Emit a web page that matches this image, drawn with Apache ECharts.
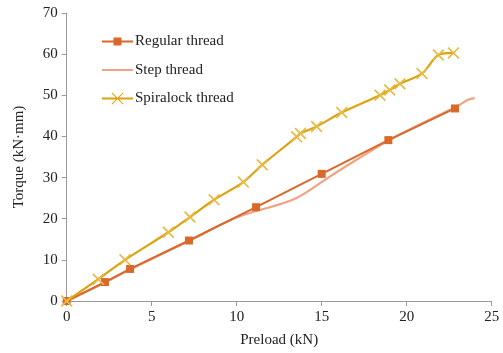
<!DOCTYPE html>
<html><head><meta charset="utf-8">
<script src="https://cdn.jsdelivr.net/npm/echarts@6/dist/echarts.min.js"></script>
<style>html,body{margin:0;padding:0;background:#fff}#c{width:503px;height:353px}</style>
</head><body><div id="c"></div>
<script>
const seriesNames = ['Regular thread', 'Step thread', 'Spiralock thread'];
const regularX = [0, 2.25, 3.73, 7.19, 11.14, 15.0, 18.92, 22.84];
const regularY = [0, 4.6, 7.8, 14.7, 22.8, 30.9, 39.1, 46.8];
const stepX = [0, 2.2, 3.7, 7.2, 10.0, 13.4, 15.5, 17.0, 19.0, 21.0, 23.0, 23.6, 24.0];
const stepY = [0, 4.4, 7.6, 14.6, 20.3, 24.8, 30.3, 34.2, 39.2, 43.4, 47.4, 48.9, 49.3];
const spiralX = [0, 1.86, 3.43, 5.98, 7.25, 8.67, 10.39, 11.5, 13.53, 13.75, 14.7, 16.18, 18.43, 19.0, 19.6, 20.9, 21.86, 22.75];
const spiralY = [0, 5.3, 10.0, 16.7, 20.4, 24.6, 28.9, 33.1, 39.9, 40.7, 42.4, 45.8, 50.0, 51.3, 52.8, 55.3, 59.8, 60.3];
const xTicks = [0, 5, 10, 15, 20, 25];
const yTicks = [0, 10, 20, 30, 40, 50, 60, 70];

const pair = (xs, ys) => xs.map((x, i) => [x, ys[i]]);
const font = 'Liberation Serif';
const crossPath = 'path://M0,1L1,0L10,9L9,10Z M9,0L10,1L1,10L0,9Z';
const bounds = 'M0,0L0.01,0L0.01,0.01Z M31,14L30.99,14L30.99,13.99Z ';
const iconStep = 'path://' + bounds + 'M0,6L31,6L31,8L0,8Z';
const iconRegular = 'path://' + bounds + 'M0,6L31,6L31,8L0,8Z M11.5,3L19.5,3L19.5,11L11.5,11Z';
const iconSpiral = 'path://' + bounds + 'M0,6L31,6L31,8L0,8Z M9.5,1.7L10.2,1L21.5,12.3L20.8,13Z M20.8,1L21.5,1.7L10.2,13L9.5,12.3Z';

const chart = echarts.init(document.getElementById('c'), null, {renderer: 'canvas'});
chart.setOption({
  animation: false,
  grid: {left: 66.7, right: 11.3, top: 13, bottom: 51.8},
  legend: {
    orient: 'vertical', left: 97, top: 29,
    itemWidth: 31, itemHeight: 14, itemGap: 13.5,
    textStyle: {fontFamily: font, fontSize: 15, color: '#222', padding: [0, 0, 0, -3]},
    data: [
      {name: seriesNames[0], icon: iconRegular},
      {name: seriesNames[1], icon: iconStep},
      {name: seriesNames[2], icon: iconSpiral, itemStyle: {color: '#DDA20C'}}
    ]
  },
  xAxis: {
    type: 'value', min: xTicks[0], max: xTicks[xTicks.length - 1], interval: 5,
    name: 'Preload (kN)', nameLocation: 'middle', nameGap: 32,
    nameTextStyle: {fontFamily: font, fontSize: 15, color: '#222'},
    axisLine: {show: true, lineStyle: {color: '#9a9a9a', width: 1}},
    axisTick: {show: true, inside: false, length: 5, lineStyle: {color: '#9a9a9a'}},
    axisLabel: {fontFamily: font, fontSize: 15, color: '#222', margin: 9},
    splitLine: {show: false}
  },
  yAxis: {
    type: 'value', min: yTicks[0], max: yTicks[yTicks.length - 1], interval: 10,
    name: 'Torque (kN·mm)', nameLocation: 'middle', nameGap: 40, nameRotate: 90,
    nameTextStyle: {fontFamily: font, fontSize: 15, color: '#222'},
    axisLine: {show: true, lineStyle: {color: '#9a9a9a', width: 1}},
    axisTick: {show: true, inside: false, length: 5, lineStyle: {color: '#9a9a9a'}},
    axisLabel: {fontFamily: font, fontSize: 15, color: '#222', margin: 9},
    splitLine: {show: false}
  },
  series: [
    {
      name: seriesNames[1], type: 'line', data: pair(stepX, stepY),
      smooth: 0.3, symbol: 'none', z: 1,
      lineStyle: {color: '#F2A283', width: 2.2},
      itemStyle: {color: '#F2A283'}
    },
    {
      name: seriesNames[0], type: 'line', data: pair(regularX, regularY),
      symbol: 'rect', symbolSize: 8, z: 2,
      lineStyle: {color: '#D8692A', width: 2},
      itemStyle: {color: '#D8692A'}
    },
    {
      name: seriesNames[2], type: 'line', data: pair(spiralX, spiralY),
      smooth: 0.3, symbol: crossPath, symbolSize: 12, z: 3,
      lineStyle: {color: '#DDA20C', width: 2.2},
      itemStyle: {color: '#E6BB45'}
    }
  ]
});
</script></body></html>
